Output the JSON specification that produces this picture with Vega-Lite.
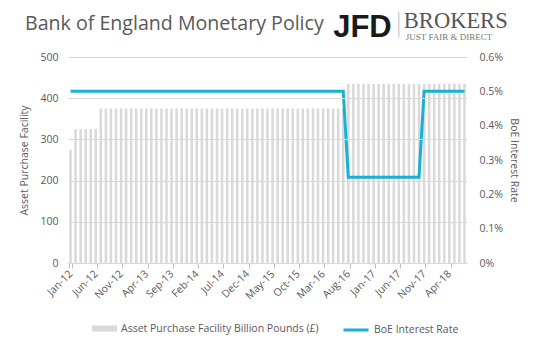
{
  "$schema": "https://vega.github.io/schema/vega-lite/v6.json",
  "width": 399,
  "height": 206,
  "autosize": {"type": "none"},
  "padding": {"left": 68, "top": 57, "right": 76, "bottom": 88},
  "background": "white",
  "title": {
    "text": "Bank of England Monetary Policy",
    "anchor": "start",
    "frame": "group",
    "dx": -43,
    "offset": -39,
    "baseline": "alphabetic",
    "font": "Open Sans",
    "fontSize": 19.6,
    "fontWeight": "normal",
    "color": "#595959"
  },
  "data": {
    "values": [
      {"month": "Jan-12", "apf": 275, "rate": 0.005},
      {"month": "Feb-12", "apf": 325, "rate": 0.005},
      {"month": "Mar-12", "apf": 325, "rate": 0.005},
      {"month": "Apr-12", "apf": 325, "rate": 0.005},
      {"month": "May-12", "apf": 325, "rate": 0.005},
      {"month": "Jun-12", "apf": 325, "rate": 0.005},
      {"month": "Jul-12", "apf": 375, "rate": 0.005},
      {"month": "Aug-12", "apf": 375, "rate": 0.005},
      {"month": "Sep-12", "apf": 375, "rate": 0.005},
      {"month": "Oct-12", "apf": 375, "rate": 0.005},
      {"month": "Nov-12", "apf": 375, "rate": 0.005},
      {"month": "Dec-12", "apf": 375, "rate": 0.005},
      {"month": "Jan-13", "apf": 375, "rate": 0.005},
      {"month": "Feb-13", "apf": 375, "rate": 0.005},
      {"month": "Mar-13", "apf": 375, "rate": 0.005},
      {"month": "Apr-13", "apf": 375, "rate": 0.005},
      {"month": "May-13", "apf": 375, "rate": 0.005},
      {"month": "Jun-13", "apf": 375, "rate": 0.005},
      {"month": "Jul-13", "apf": 375, "rate": 0.005},
      {"month": "Aug-13", "apf": 375, "rate": 0.005},
      {"month": "Sep-13", "apf": 375, "rate": 0.005},
      {"month": "Oct-13", "apf": 375, "rate": 0.005},
      {"month": "Nov-13", "apf": 375, "rate": 0.005},
      {"month": "Dec-13", "apf": 375, "rate": 0.005},
      {"month": "Jan-14", "apf": 375, "rate": 0.005},
      {"month": "Feb-14", "apf": 375, "rate": 0.005},
      {"month": "Mar-14", "apf": 375, "rate": 0.005},
      {"month": "Apr-14", "apf": 375, "rate": 0.005},
      {"month": "May-14", "apf": 375, "rate": 0.005},
      {"month": "Jun-14", "apf": 375, "rate": 0.005},
      {"month": "Jul-14", "apf": 375, "rate": 0.005},
      {"month": "Aug-14", "apf": 375, "rate": 0.005},
      {"month": "Sep-14", "apf": 375, "rate": 0.005},
      {"month": "Oct-14", "apf": 375, "rate": 0.005},
      {"month": "Nov-14", "apf": 375, "rate": 0.005},
      {"month": "Dec-14", "apf": 375, "rate": 0.005},
      {"month": "Jan-15", "apf": 375, "rate": 0.005},
      {"month": "Feb-15", "apf": 375, "rate": 0.005},
      {"month": "Mar-15", "apf": 375, "rate": 0.005},
      {"month": "Apr-15", "apf": 375, "rate": 0.005},
      {"month": "May-15", "apf": 375, "rate": 0.005},
      {"month": "Jun-15", "apf": 375, "rate": 0.005},
      {"month": "Jul-15", "apf": 375, "rate": 0.005},
      {"month": "Aug-15", "apf": 375, "rate": 0.005},
      {"month": "Sep-15", "apf": 375, "rate": 0.005},
      {"month": "Oct-15", "apf": 375, "rate": 0.005},
      {"month": "Nov-15", "apf": 375, "rate": 0.005},
      {"month": "Dec-15", "apf": 375, "rate": 0.005},
      {"month": "Jan-16", "apf": 375, "rate": 0.005},
      {"month": "Feb-16", "apf": 375, "rate": 0.005},
      {"month": "Mar-16", "apf": 375, "rate": 0.005},
      {"month": "Apr-16", "apf": 375, "rate": 0.005},
      {"month": "May-16", "apf": 375, "rate": 0.005},
      {"month": "Jun-16", "apf": 375, "rate": 0.005},
      {"month": "Jul-16", "apf": 375, "rate": 0.005},
      {"month": "Aug-16", "apf": 435, "rate": 0.0025},
      {"month": "Sep-16", "apf": 435, "rate": 0.0025},
      {"month": "Oct-16", "apf": 435, "rate": 0.0025},
      {"month": "Nov-16", "apf": 435, "rate": 0.0025},
      {"month": "Dec-16", "apf": 435, "rate": 0.0025},
      {"month": "Jan-17", "apf": 435, "rate": 0.0025},
      {"month": "Feb-17", "apf": 435, "rate": 0.0025},
      {"month": "Mar-17", "apf": 435, "rate": 0.0025},
      {"month": "Apr-17", "apf": 435, "rate": 0.0025},
      {"month": "May-17", "apf": 435, "rate": 0.0025},
      {"month": "Jun-17", "apf": 435, "rate": 0.0025},
      {"month": "Jul-17", "apf": 435, "rate": 0.0025},
      {"month": "Aug-17", "apf": 435, "rate": 0.0025},
      {"month": "Sep-17", "apf": 435, "rate": 0.0025},
      {"month": "Oct-17", "apf": 435, "rate": 0.0025},
      {"month": "Nov-17", "apf": 435, "rate": 0.005},
      {"month": "Dec-17", "apf": 435, "rate": 0.005},
      {"month": "Jan-18", "apf": 435, "rate": 0.005},
      {"month": "Feb-18", "apf": 435, "rate": 0.005},
      {"month": "Mar-18", "apf": 435, "rate": 0.005},
      {"month": "Apr-18", "apf": 435, "rate": 0.005},
      {"month": "May-18", "apf": 435, "rate": 0.005},
      {"month": "Jun-18", "apf": 435, "rate": 0.005},
      {"month": "Jul-18", "apf": 435, "rate": 0.005}
    ]
  },
  "layer": [
    {
      "layer": [
        {
          "mark": {"type": "bar"},
          "encoding": {
            "x": {
              "field": "month",
              "type": "ordinal",
              "sort": null,
              "scale": {"paddingInner": 0.5, "paddingOuter": 0.25},
              "axis": {
                "title": null,
                "values": ["Jan-12", "Jun-12", "Nov-12", "Apr-13", "Sep-13", "Feb-14", "Jul-14", "Dec-14", "May-15", "Oct-15", "Mar-16", "Aug-16", "Jan-17", "Jun-17", "Nov-17", "Apr-18"],
                "labelAngle": -45,
                "labelAlign": "right",
                "labelBaseline": "middle",
                "labelPadding": 4,
                "tickBand": "extent",
                "tickSize": 5,
                "tickColor": "#bfbfbf",
                "domainColor": "#bfbfbf",
                "grid": false
              }
            },
            "y": {
              "field": "apf",
              "type": "quantitative",
              "scale": {"domain": [0, 500], "nice": false, "zero": true},
              "axis": {
                "title": "Asset Purchase Facility",
                "values": [0, 50, 100, 150, 200, 250, 300, 350, 400, 450, 500],
                "grid": true,
                "gridColor": "#d9d9d9",
                "ticks": false,
                "domain": false,
                "labelPadding": 10,
                "titlePadding": 10,
                "zindex": 1
              }
            },
            "color": {
              "datum": "Asset Purchase Facility Billion Pounds (£)",
              "type": "nominal",
              "scale": {"range": ["#d9d9d9"]},
              "legend": {
                "title": null,
                "orient": "none",
                "legendX": 24,
                "legendY": 259,
                "symbolType": "M-1,-0.24H1V0.24H-1Z",
                "symbolSize": 625,
                "symbolStrokeWidth": 0,
                "labelOffset": 4,
                "labelLimit": 320
              }
            }
          }
        },
        {
          "data": {"values": [{}]},
          "mark": {"type": "text", "text": "JFD", "align": "left", "baseline": "alphabetic", "font": "Liberation Sans", "fontWeight": "bold", "fontSize": 31, "color": "#1a1a1a"},
          "encoding": {
            "x": {"datum": "May-16", "type": "ordinal"},
            "y": {"datum": 548, "type": "quantitative"}
          }
        },
        {
          "data": {"values": [{}]},
          "mark": {"type": "rule", "color": "#bbbbbb", "strokeWidth": 1, "dx": -2},
          "encoding": {
            "x": {"datum": "Jun-17", "type": "ordinal"},
            "y": {"datum": 548, "type": "quantitative"},
            "y2": {"datum": 609}
          }
        },
        {
          "data": {"values": [{}]},
          "mark": {"type": "text", "text": "BROKERS", "align": "left", "baseline": "alphabetic", "font": "Liberation Serif", "fontSize": 22.5, "color": "#555555"},
          "encoding": {
            "x": {"datum": "Jul-17", "type": "ordinal"},
            "y": {"datum": 570, "type": "quantitative"}
          }
        },
        {
          "data": {"values": [{}]},
          "mark": {"type": "text", "text": "JUST FAIR & DIRECT", "align": "left", "baseline": "alphabetic", "font": "Liberation Serif", "fontSize": 9, "dx": 2, "color": "#777777"},
          "encoding": {
            "x": {"datum": "Jul-17", "type": "ordinal"},
            "y": {"datum": 541, "type": "quantitative"}
          }
        }
      ]
    },
    {
      "mark": {"type": "line", "strokeWidth": 3, "interpolate": "linear"},
      "encoding": {
        "x": {"field": "month", "type": "ordinal", "sort": null},
        "y": {
          "field": "rate",
          "type": "quantitative",
          "scale": {"domain": [0, 0.006], "nice": false},
          "axis": {
            "orient": "right",
            "title": "BoE Interest Rate",
            "values": [0, 0.001, 0.002, 0.003, 0.004, 0.005, 0.006],
            "format": ".1~%",
            "grid": false,
            "ticks": false,
            "domain": false,
            "labelPadding": 12,
            "titlePadding": 6
          }
        },
        "stroke": {
          "datum": "BoE Interest Rate",
          "type": "nominal",
          "scale": {"range": ["#17b1d6"]},
          "legend": {
            "title": null,
            "orient": "none",
            "legendX": 274,
            "legendY": 259,
            "symbolType": "stroke",
            "symbolSize": 625,
            "symbolStrokeWidth": 3,
            "labelOffset": 4
          }
        }
      }
    }
  ],
  "resolve": {"scale": {"y": "independent"}},
  "config": {
    "view": {"stroke": null},
    "axis": {
      "labelFont": "Open Sans",
      "labelFontSize": 10.5,
      "labelColor": "#595959",
      "titleFont": "Open Sans",
      "titleFontSize": 10.5,
      "titleFontWeight": "normal",
      "titleColor": "#595959"
    },
    "legend": {
      "labelFont": "Open Sans",
      "labelFontSize": 10.5,
      "labelColor": "#595959"
    }
  }
}
